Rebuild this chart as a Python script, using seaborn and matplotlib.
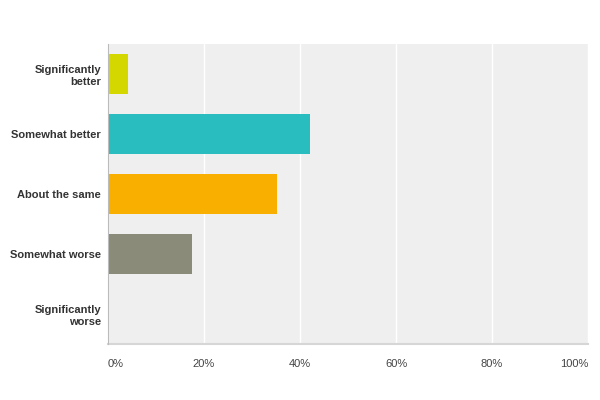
import matplotlib
matplotlib.use("Agg")
import matplotlib.pyplot as plt
import seaborn as sns
import pandas as pd
from matplotlib.ticker import FuncFormatter

# Survey answers and share of responses (%)
answers = ["Significantly\nbetter", "Somewhat better", "About the same",
           "Somewhat worse", "Significantly\nworse"]
shares = [4.2, 42.0, 35.2, 17.5, 0.0]
colors = ["#D4D800", "#2ABDBF", "#F9AF00", "#8A8B78", "#8C6FA0"]

df = pd.DataFrame({"answer": answers, "share": shares})

sns.set_style("white")
plt.rcParams["font.family"] = ["Liberation Sans", "DejaVu Sans"]

fig = plt.figure(figsize=(6, 4), dpi=100)
ax = fig.add_axes([0.18, 0.14, 0.80, 0.75])
ax.set_facecolor("#EFEFEF")

sns.barplot(data=df, x="share", y="answer", hue="answer", palette=colors,
            legend=False, width=0.667, saturation=1, linewidth=0, ax=ax,
            zorder=3)

ax.set_xlim(0, 100)
ax.set_xticks([0, 20, 40, 60, 80, 100])
ax.xaxis.set_major_formatter(FuncFormatter(lambda v, p: f"{v:.0f}%"))
ax.grid(axis="x", color="white", linewidth=1, zorder=0)
ax.set_axisbelow(True)
ax.set_xlabel("")
ax.set_ylabel("")

for s in ["top", "right"]:
    ax.spines[s].set_visible(False)
ax.spines["left"].set_color("#BBBBBB")
ax.spines["left"].set_zorder(5)
ax.spines["bottom"].set_color("#D6D6D6")
ax.spines["bottom"].set_linewidth(1.5)

ax.tick_params(axis="y", length=0, pad=5, labelsize=8, labelcolor="#333333")
ax.tick_params(axis="x", length=0, pad=11, labelsize=8, labelcolor="#444444")
for lbl in ax.get_yticklabels():
    lbl.set_fontweight("bold")
    lbl.set_horizontalalignment("right")
    lbl.set_multialignment("right")
xlabels = ax.get_xticklabels()
xlabels[0].set_horizontalalignment("left")
xlabels[-1].set_horizontalalignment("right")

fig.savefig("out.png", dpi=100)
